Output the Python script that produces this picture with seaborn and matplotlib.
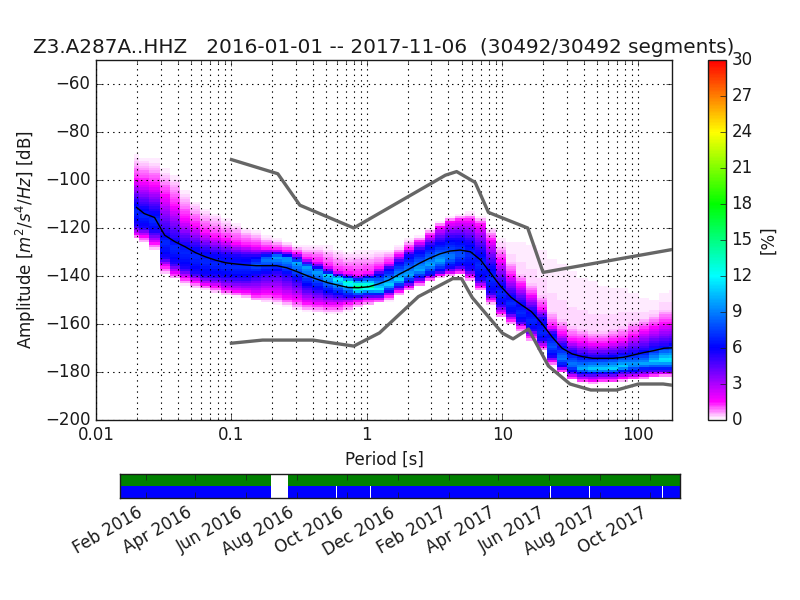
import matplotlib
matplotlib.use("Agg")
import numpy as np
import pandas as pd
import seaborn as sns
import matplotlib.pyplot as plt
import matplotlib.dates as mdates
from matplotlib.colors import LinearSegmentedColormap
from matplotlib.ticker import FormatStrFormatter, MultipleLocator

# period bin edges [s] (quarter octave)
period_edges = [0.0191, 0.0208, 0.0248, 0.0295, 0.0350, 0.0417, 0.0495, 0.0589, 0.0700, 0.0833, 0.0990,
                0.1178, 0.14, 0.1666, 0.198, 0.2355, 0.28, 0.333, 0.396, 0.471, 0.56, 0.666, 0.792, 0.942,
                1.12, 1.332, 1.584, 1.884, 2.24, 2.664, 3.168, 3.768, 4.48, 5.327, 6.335, 7.534, 8.96,
                10.65, 12.67, 15.07, 17.92, 21.31, 25.34, 30.13, 35.84, 42.62, 50.68, 60.27, 71.67,
                85.23, 101.4, 120.5, 143.3, 170.5, 202.7]

# amplitude [dB] where the density fades out / crosses levels, read column by column
top_db = [-89.2, -90.3, -91, -95.2, -98, -103.5, -109, -111.8, -113.6, -115.3, -117.4, -119.5, -120.9, -123.4,
          -124.3, -125.7, -127.1, -127.1, -126.4, -127.1, -128.5, -129.9, -128.5, -129.2,
          -129.2, -128.5, -127, -124.3, -122.9, -120.1, -117.4, -115.3, -114.2, -113.2, -114.6, -119.4, -123.6,
          -125, -125, -125.7, -127, -130.6, -132.6, -136.1, -138.9, -140.3, -141.7, -143, -143.7, -145.8,
          -148.6, -149.3, -145.8, -145.1]
pale_db = [-92, -93, -94, -98, -101, -106.5, -111, -114, -116, -118, -119.5, -121.5, -122.5, -124.5,
           -125.5, -126.5, -128, -128.5, -128.5, -129.5, -131, -132, -131.5, -131.5,
           -131, -130, -128.5, -125.5, -124, -121, -118, -116, -115, -114.5, -116, -121, -127.5,
           -134, -139, -143, -148, -155, -158, -161, -162, -163, -163, -162, -161,
           -159, -157.5, -156, -154, -154]
mag_top_db = [-100, -100.7, -102, -106.3, -110.5, -116, -118.8, -121.6, -123.6, -125, -126.4, -127.1, -127.8,
              -128.5, -128.9, -129.5, -130.6, -132.7, -134, -136.1, -138.2, -139, -139.6, -139,
              -136.8, -134.7, -131.2, -128.5, -125.7, -122.9, -119.4, -117.4, -116.7, -116.7, -118.7, -125, -133.3,
              -139.6, -143.8, -147.9, -153.5, -161.1, -163.9, -166.7, -167.4, -168.1, -168.1, -167.4, -166.7,
              -164.6, -162.5, -161.1, -159.7, -159.7]
blue_top_db = [-109, -111.1, -112.5, -122, -124.3, -126.4, -127.8, -129.2, -130.3, -130.9, -131.3, -131.7, -131.7,
               -130.9, -130.6, -131.3, -132.7, -134.8, -136.4, -138.2, -139.6, -140.3, -141, -140.3,
               -138.9, -136.8, -134, -131.2, -129.2, -127.1, -125.7, -124.3, -124.3, -125.7, -129.2, -135.4, -143,
               -147.9, -150.7, -154.2, -157.6, -163.9, -168.8, -171.5, -172.9, -173.6, -173.3, -172.9, -172.2,
               -171.5, -170.8, -169.4, -168.8, -168]
peak_db = [-113, -115, -117, -126, -128, -130, -132, -134, -135, -136, -136.5, -136.5, -135.5, -133, -132,
           -132.7, -134.5, -136.1, -138, -139.5, -141, -142.5, -144.5, -144.5,
           -145.8, -143.7, -141.7, -139.6, -137.5, -135.4, -133.6, -132.2, -131.2, -131.2, -135.4, -141.7, -147.2,
           -151.4, -155.5, -159, -163.9, -169.4, -174.3, -177, -178.5, -178.8, -178.8, -178.5, -177.8, -177,
           -176.7, -175.7, -175, -175]
blue_low_db = [-118.8, -120, -121.5, -132.7, -134.8, -136.8, -139, -140, -140.3, -140.7, -141, -141, -139.9, -139,
               -138.2, -139.6, -141.7, -144.5, -145.9, -147.3, -148, -148.6, -148.4, -148,
               -147.9, -146.5, -144.4, -142.8, -141, -139.6, -138.2, -136.8, -136.1, -137.5, -141.7, -147.2, -152,
               -155.6, -159, -162.5, -166.7, -173.6, -177.8, -179.9, -180.8, -180.8, -180.6, -180.6, -179.9,
               -179.9, -179.2, -179.2, -179.2, -179.2]
mag_low_db = [-123, -123.6, -126.4, -136, -139, -141, -142.4, -143.8, -144.5, -145.9, -146.6, -147, -148, -147.3,
              -148, -149.3, -150, -151.4, -152, -152.1, -152.1, -151.4, -150.7, -150,
              -150, -148.3, -146.5, -144.7, -142.8, -141, -139.6, -138.9, -138.2, -140.3, -144.4, -150, -155.5,
              -158.3, -161.1, -165.3, -169.4, -175.7, -179.2, -182.2, -183.3, -183.6, -183.3, -183.3, -182.6,
              -182.2, -182, -181.2, -180.8, -180.8]
end_db = [-124.3, -126.4, -129.2, -139.6, -141.7, -143.8, -145.2, -146, -147.3, -148.2, -148.7, -149.3, -150.7,
          -151.4, -152.1, -152.8, -154.2, -154.9, -155.3, -155.9, -155.9, -154.9, -153.5, -152.5,
          -151.4, -150.7, -148.3, -146.5, -144.4, -142.4, -141, -140, -139.6, -142.4, -146.5, -152.1, -157.6,
          -160.4, -163.9, -167.4, -171.5, -177.8, -180.6, -183.6, -184.7, -185, -184.7, -184.5, -184, -183.6,
          -183, -182.6, -182.2, -182.2]
peak_pct = [7, 7, 7, 7, 7, 7, 7, 7, 7, 7, 7, 7, 8, 9, 10, 10, 10, 10, 10, 11, 12, 13, 16, 15,
            12, 11, 11, 10, 10, 10, 10, 9, 8, 7, 7, 7, 7, 7, 7, 7, 7, 8, 9, 9, 10, 11, 11, 11, 11, 10, 10, 11, 12, 12]

# black curve (mean)
mean_db = [-111.4, -114, -115.6, -123, -125.7, -127.8, -130.2, -132, -133.4, -134.5, -135, -135.4, -135.7, -135.7,
           -135.7, -136.6, -138.2, -139.9, -141.4, -142.8, -143.8, -144.8, -144.9, -144.5,
           -143.3, -141.7, -139.3, -137.1, -134.7, -132.6, -130.8, -129.6, -129.2, -129.9, -133.3, -138.9, -144.4,
           -148.9, -152, -154.9, -159.7, -165.3, -170.1, -172.5, -173.6, -174.3, -174.3, -174.3, -173.9, -172.9,
           -171.9, -171.1, -170.1, -169.9]

# noise models
nhnm_period = [0.10, 0.22, 0.32, 0.80, 3.80, 4.60, 6.30, 7.90, 15.40, 20.00, 354.80]
nhnm_db = [-91.5, -97.4, -110.5, -120, -98, -96.5, -101, -113.5, -120, -138.5, -126]
nlnm_period = [0.1, 0.17, 0.4, 0.8, 1.24, 2.4, 4.3, 5, 6, 10, 12, 15.6, 21.9, 31.6, 45, 70, 101, 154, 328]
nlnm_db = [-168, -166.7, -166.7, -169.2, -163.7, -148.6, -141.1, -141.1, -149, -163.8, -166.2, -162.1,
           -177.5, -185, -187.5, -187.5, -185, -185, -187.5]

# data coverage
green_spans = [("2016-01-01", "2016-07-01"), ("2016-07-21", "2017-11-06")]
blue_spans = [("2016-01-01", "2016-07-01"), ("2016-07-21", "2016-09-17"), ("2016-09-18", "2016-10-28"),
              ("2016-10-29", "2017-06-02"), ("2017-06-03", "2017-07-19"), ("2017-07-20", "2017-08-30"),
              ("2017-08-31", "2017-10-15"), ("2017-10-16", "2017-11-06")]
cbar_ticks = [0, 3, 6, 9, 12, 15, 18, 21, 24, 27, 30]
title = "Z3.A287A..HHZ   2016-01-01 -- 2017-11-06  (30492/30492 segments)"

sns.set_theme(style="ticks")
plt.style.use("classic")
plt.rcParams["mathtext.fontset"] = "dejavusans"

pqlx = LinearSegmentedColormap.from_list(
    "pqlx",
    [(0, "white"), (0.05, "magenta"), (0.2, "blue"), (0.4, "cyan"), (0.6, "lime"), (0.8, "yellow"), (1, "red")],
    N=256,
)

# density grid, one dB per row
db_edges = np.arange(-200, -49, 1.0)
db_mid = (db_edges[:-1] + db_edges[1:]) / 2
density = np.zeros((len(db_mid), len(peak_pct)))
for i in range(len(peak_pct)):
    xp = [end_db[i], mag_low_db[i], blue_low_db[i], peak_db[i], blue_top_db[i], mag_top_db[i], pale_db[i], top_db[i]]
    fp = [0, 1.5, 5.5, peak_pct[i], 5.5, 1.5, 0.3, 0.1]
    density[:, i] = np.interp(db_mid, xp, fp, left=0, right=0)
density = np.ma.masked_less_equal(density, 0.02)

edges = np.array(period_edges)
centers = np.sqrt(edges[:-1] * edges[1:])

fig = plt.figure(figsize=(8, 6), facecolor="white")
ax = fig.add_axes([0.12, 0.30, 0.72, 0.60])
cax = fig.add_axes([0.885, 0.30, 0.0225, 0.60])
tax = fig.add_axes([0.15, 0.17, 0.70, 0.04])

mesh = ax.pcolormesh(edges, db_edges, density, cmap=pqlx, vmin=0, vmax=30, zorder=1)
ax.set_xscale("log")

sns.lineplot(x=nhnm_period, y=nhnm_db, color="0.4", linewidth=2.4, ax=ax, zorder=3)
sns.lineplot(x=nlnm_period, y=nlnm_db, color="0.4", linewidth=2.4, ax=ax, zorder=3)
sns.lineplot(x=centers, y=mean_db, color="black", linewidth=1, ax=ax, zorder=4)

ax.set_xlim(0.01, 179)
ax.set_ylim(-200, -50)
ax.yaxis.set_major_locator(MultipleLocator(20))
ax.xaxis.set_major_formatter(FormatStrFormatter("%g"))
dots = (0, (1, 3))
ax.grid(True, which="major", color="black", linestyle=dots, linewidth=0.8, zorder=2)
ax.grid(True, which="minor", axis="x", color="black", linestyle=dots, linewidth=0.8, zorder=2)
ax.set_axisbelow(False)
ax.set_xlabel("Period [s]", fontsize=12)
ax.set_ylabel("Amplitude [$m^2/s^4/Hz$] [dB]", fontsize=12)
ax.set_title(title, fontsize=14.4)

cbar = fig.colorbar(mesh, cax=cax)
cbar.set_ticks(cbar_ticks)
cbar.set_label("[%]", fontsize=12)

for start, end in green_spans:
    s, e = mdates.date2num(pd.Timestamp(start)), mdates.date2num(pd.Timestamp(end))
    tax.broken_barh([(s, e - s)], (0.5, 0.5), color="green", linewidth=0)
for start, end in blue_spans:
    s, e = mdates.date2num(pd.Timestamp(start)), mdates.date2num(pd.Timestamp(end))
    tax.broken_barh([(s, e - s)], (0, 0.5), color="blue", linewidth=0)
tax.set_ylim(0, 1)
tax.set_yticks([])
tax.set_xlim(mdates.date2num(pd.Timestamp("2016-01-01")), mdates.date2num(pd.Timestamp("2017-11-06")))
tax.xaxis.set_major_locator(mdates.MonthLocator(bymonth=[2, 4, 6, 8, 10, 12]))
tax.xaxis.set_major_formatter(mdates.DateFormatter("%b %Y"))
for label in tax.get_xticklabels():
    label.set_rotation(30)
    label.set_ha("right")

fig.savefig("out.png", dpi=100, facecolor="white")
